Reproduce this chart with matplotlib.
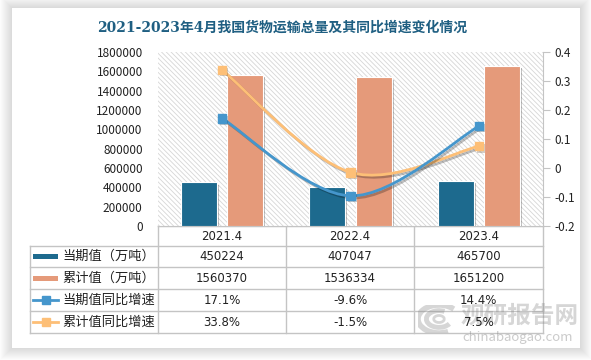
import matplotlib
matplotlib.use("Agg")
import matplotlib.pyplot as plt
import matplotlib.patheffects as pe
from matplotlib.patches import Rectangle, Arc, PathPatch
from matplotlib.path import Path
from matplotlib.ticker import FuncFormatter

plt.rcParams['font.family'] = ['Noto Sans CJK SC', 'DejaVu Sans']
plt.rcParams['hatch.color'] = '#d6d6d6'
plt.rcParams['hatch.linewidth'] = 0.6

# data
categories = ["2021.4", "2022.4", "2023.4"]
current = [450224, 407047, 465700]
cumulative = [1560370, 1536334, 1651200]
current_yoy = [0.171, -0.096, 0.144]
cumulative_yoy = [0.338, -0.015, 0.075]
current_yoy_txt = ["17.1%", "-9.6%", "14.4%"]
cumulative_yoy_txt = ["33.8%", "-1.5%", "7.5%"]
row_names = ["当期值（万吨）", "累计值（万吨）", "当期值同比增速", "累计值同比增速"]

title = "2021-2023年4月我国货物运输总量及其同比增速变化情况"

c_cur = "#1d6a8e"
c_cum = "#e59a7a"
c_cur_l = "#4596cc"
c_cum_l = "#fdbf77"
grid_c = "#c4c4c4"
txt_c = "#222222"

W, H = 591, 360
fig = plt.figure(figsize=(W / 100, H / 100), dpi=100)
fig.patch.set_facecolor("white")


def fx(px):
    return px / W


def fy(py):
    return 1 - py / H


# card with soft shadow
card = (12, 8, 580, 348)
for i in range(12, 0, -1):
    fig.add_artist(Rectangle((fx(card[0] - i), fy(card[3] + i)),
                             fx(card[2] - card[0] + 2 * i), (card[3] - card[1] + 2 * i) / H,
                             facecolor="#000000", alpha=0.012, edgecolor="none",
                             transform=fig.transFigure, zorder=0))
fig.add_artist(Rectangle((fx(card[0]), fy(card[3])), fx(card[2] - card[0]),
                         (card[3] - card[1]) / H, facecolor="white", edgecolor="none",
                         transform=fig.transFigure, zorder=0.5))

fig.text(fx(282), fy(28), title, ha="center", va="center", fontsize=10,
         fontweight="bold", color="#1f5f82", family=["DejaVu Serif", "Noto Sans CJK SC"])

# plot area
x0, x1, ytop, ybot = 158, 543, 52, 226
ax = fig.add_axes([fx(x0), fy(ybot), fx(x1 - x0), (ybot - ytop) / H])
ax.set_zorder(2)
ax.patch.set_facecolor("white")
ax.add_patch(Rectangle((0, 0), 1, 1, transform=ax.transAxes, facecolor="white",
                       edgecolor="#d6d6d6", linewidth=0, hatch="\\\\\\\\\\\\\\", zorder=0))

xs = list(range(len(categories)))
shadow = [pe.SimplePatchShadow(offset=(1.5, -1.5), shadow_rgbFace="#000000", alpha=0.25), pe.Normal()]
b1 = ax.bar([x - 0.18 for x in xs], current, width=0.28, color=c_cur,
            edgecolor="white", linewidth=0.8, zorder=3)
b2 = ax.bar([x + 0.18 for x in xs], cumulative, width=0.28, color=c_cum,
            edgecolor="white", linewidth=0.8, zorder=3)
for b in list(b1) + list(b2):
    b.set_path_effects(shadow)

ax.set_xlim(-0.5, len(categories) - 0.5)
ax.set_ylim(0, 1800000)
ax.set_yticks(range(0, 1800001, 200000))
ax.yaxis.set_major_formatter(FuncFormatter(lambda v, p: f"{int(v)}"))
ax.tick_params(axis="y", length=0, labelsize=8.5, pad=11, colors=txt_c)
ax.set_xticks([])
for s in ["top", "left", "right"]:
    ax.spines[s].set_visible(False)
ax.spines["bottom"].set_color(grid_c)

ax2 = ax.twinx()
ax2.set_ylim(-0.2, 0.4)
ax2.set_yticks([-0.2, -0.1, 0, 0.1, 0.2, 0.3, 0.4])
ax2.set_yticklabels(["-0.2", "-0.1", "0", "0.1", "0.2", "0.3", "0.4"])
ax2.tick_params(axis="y", length=5, labelsize=8.5, colors=txt_c, color=grid_c, pad=3)
for s in ["top", "left", "bottom"]:
    ax2.spines[s].set_visible(False)
ax2.spines["right"].set_color(grid_c)


def smooth_path(xv, yv):
    # Catmull-Rom style bezier through the points
    pts = list(zip(xv, yv))
    verts = [pts[0]]
    codes = [Path.MOVETO]
    n = len(pts)
    for i in range(n - 1):
        p0 = pts[i - 1] if i > 0 else pts[i]
        p1 = pts[i]
        p2 = pts[i + 1]
        p3 = pts[i + 2] if i + 2 < n else pts[i + 1]
        c1 = (p1[0] + (p2[0] - p0[0]) / 6, p1[1] + (p2[1] - p0[1]) / 6)
        c2 = (p2[0] - (p3[0] - p1[0]) / 6, p2[1] - (p3[1] - p1[1]) / 6)
        verts += [c1, c2, p2]
        codes += [Path.CURVE4] * 3
    return Path(verts, codes)


line_shadow = [pe.SimpleLineShadow(offset=(1.5, -1.5), alpha=0.25, shadow_color="#000000"), pe.Normal()]
for vals, col in [(cumulative_yoy, c_cum_l), (current_yoy, c_cur_l)]:
    patch = PathPatch(smooth_path(xs, vals), facecolor="none", edgecolor=col,
                      linewidth=2, zorder=4)
    patch.set_path_effects(line_shadow)
    ax2.add_patch(patch)
    ax2.plot(xs, vals, linestyle="none", marker="s", markersize=6, color=col, zorder=5,
             path_effects=[pe.SimplePatchShadow(offset=(1.5, -1.5), alpha=0.25), pe.Normal()])

# data table below the plot
rows_y = [226, 246, 267, 289, 311, 333]
col_x = [30, 158, 286, 414, 543]
lw = 1.0
fig.add_artist(plt.Line2D([fx(col_x[1]), fx(col_x[-1])], [fy(rows_y[0])] * 2, color=grid_c, lw=lw))
for y in rows_y[1:]:
    fig.add_artist(plt.Line2D([fx(col_x[0]), fx(col_x[-1])], [fy(y)] * 2, color=grid_c, lw=lw))
fig.add_artist(plt.Line2D([fx(col_x[0])] * 2, [fy(rows_y[1]), fy(rows_y[-1])], color=grid_c, lw=lw))
for x in col_x[1:]:
    fig.add_artist(plt.Line2D([fx(x)] * 2, [fy(rows_y[0]), fy(rows_y[-1])], color=grid_c, lw=lw))

tsize = 8.5
tfam = ["DejaVu Sans"]
for j, cat in enumerate(categories):
    cx = fx((col_x[j + 1] + col_x[j + 2]) / 2)
    fig.text(cx, fy((rows_y[0] + rows_y[1]) / 2), cat, ha="center", va="center",
             fontsize=tsize, color=txt_c, family=tfam)
    cells = [str(current[j]), str(cumulative[j]), current_yoy_txt[j], cumulative_yoy_txt[j]]
    for r, txt in enumerate(cells):
        fig.text(cx, fy((rows_y[r + 1] + rows_y[r + 2]) / 2), txt, ha="center", va="center",
                 fontsize=tsize, color=txt_c, family=tfam, zorder=4)

# legend keys and row names
key_cols = [c_cur, c_cum, c_cur_l, c_cum_l]
for r, name in enumerate(row_names):
    ymid = fy((rows_y[r + 1] + rows_y[r + 2]) / 2)
    if r < 2:
        fig.add_artist(Rectangle((fx(33), ymid - 2.5 / H), fx(25), 5 / H, facecolor=key_cols[r],
                                 edgecolor="none", transform=fig.transFigure))
    else:
        fig.add_artist(plt.Line2D([fx(33), fx(58)], [ymid, ymid], color=key_cols[r], lw=2, zorder=3))
        fig.add_artist(plt.Line2D([fx(45.5)], [ymid], color=key_cols[r], marker="s",
                                  markersize=6, linestyle="none", zorder=3))
    fig.text(fx(62), ymid, name, ha="left", va="center", fontsize=9.5, color=txt_c)

# watermark
wm = "#8c8c8c"
fig.text(fx(520), fy(316), "观研报告网", ha="center", va="center", fontsize=17,
         fontweight="bold", color=wm, alpha=0.35, zorder=3)
fig.text(fx(518), fy(338), "chinabaogao.com", ha="center", va="center", fontsize=9.5,
         color=wm, alpha=0.45, zorder=3)
wax = fig.add_axes([fx(418), fy(333), fx(42), 28 / H])
wax.set_zorder(3)
wax.set_xlim(-1.2, 1.2)
wax.set_ylim(-1, 1)
wax.axis("off")
for rad, t1, t2, lwid in [(1.0, 40, 300, 4), (0.6, 60, 330, 3.5), (0.25, 0, 360, 2)]:
    wax.add_patch(Arc((0, 0), 2 * rad * 1.2, 2 * rad, theta1=t1, theta2=t2, color=wm,
                      lw=lwid, alpha=0.35))

fig.savefig("out.png", dpi=100)
